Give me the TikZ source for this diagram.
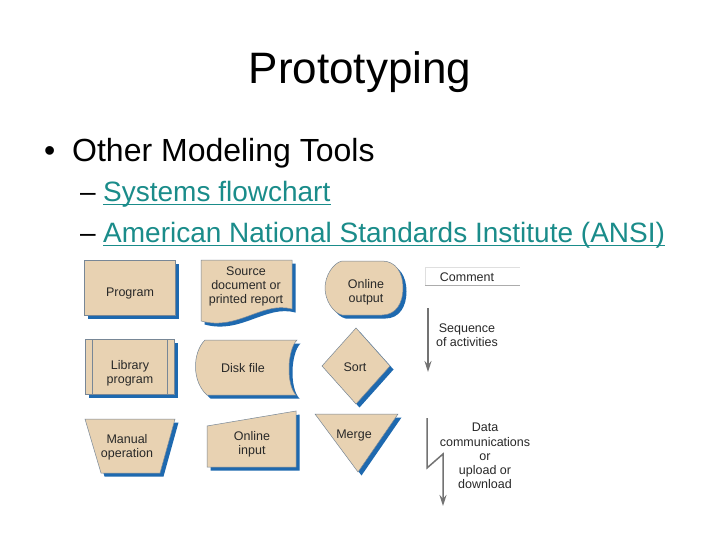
\documentclass[tikz,border=0pt]{standalone}
\usepackage{fontspec}
\setmainfont{Liberation Sans}
\usetikzlibrary{arrows.meta}
\definecolor{shapetan}{RGB}{232,210,178}
\definecolor{shadowblue}{RGB}{30,105,175}
\definecolor{edgegray}{RGB}{120,135,150}
\definecolor{linkteal}{RGB}{26,140,138}
\definecolor{arrowgray}{RGB}{115,115,115}
\definecolor{labeltext}{RGB}{40,40,40}
\newcommand\symshape[1]{%
  \fill[shadowblue,xshift=3.5pt,yshift=-3.5pt] #1;
  \filldraw[shapefill] #1;}
\begin{document}
\begin{tikzpicture}[x=1pt,y=-1pt,
  shapefill/.style={fill=shapetan,draw=edgegray,line width=0.5pt},
  lbl/.style={font=\fontsize{12.5}{14.2}\selectfont,text=labeltext,align=center,inner sep=0pt},
  flowarrow/.style={draw=arrowgray,line width=1.5pt,-{Stealth[length=11pt,width=7pt]}},
  linktext/.style={font=\fontsize{28}{32}\selectfont,text=linkteal,inner sep=0pt,anchor=base west}]
\useasboundingbox (0,0) rectangle (720,540);
\fill[white] (0,0) rectangle (720,540);
% title and bullets
\node[font=\fontsize{44}{52}\selectfont,inner sep=0pt,anchor=base] (title) at (360,84) {Prototyping};
\node[font=\fontsize{32}{38}\selectfont,inner sep=0pt,anchor=base west] (bul) at (44,161.5) {•};
\node[font=\fontsize{32}{38}\selectfont,inner sep=0pt,anchor=base west] (other) at (72,161.5) {Other Modeling Tools};
\node[font=\fontsize{28}{32}\selectfont,inner sep=0pt,anchor=base west] (d1) at (80,201.5) {–};
\node[linktext] (sf) at (103,201.5) {Systems flowchart};
\draw[linkteal,line width=1.5pt] ([yshift=-3pt]sf.base west) -- ([yshift=-3pt]sf.base east);
\node[font=\fontsize{28}{32}\selectfont,inner sep=0pt,anchor=base west] (d2) at (80,242.5) {–};
\node[linktext] (ansi) at (103,242.5) {American National Standards Institute (ANSI)};
\draw[linkteal,line width=1.5pt] ([yshift=-3pt]ansi.base west) -- ([yshift=-3pt]ansi.base east);
% row 1
\symshape{(84,260) rectangle (175,315)}
\node[lbl] (program) at (130,293) {Program};
\symshape{(201,260) -- (292,260) -- (292,309) .. controls (262,301) and (238,331) .. (201,321) -- cycle}
\node[lbl] (source) at (246,286.5) {Source\\document or\\printed report};
\symshape{(342,261) -- (382,261) .. controls (396,261) and (403,273) .. (403,288) .. controls (403,303) and (396,315) .. (382,315) -- (342,315) .. controls (333,313) and (325,300) .. (325,288) .. controls (325,276) and (333,263) .. (342,261) -- cycle}
\node[lbl] (onout) at (366,292) {Online\\output};
\draw[gray!25,line width=0.6pt] (425,285) -- (425,267) -- (520,267);
\draw[gray!65,line width=0.6pt] (425,285) -- (520,285);
\node[lbl] (comment) at (467,277.5) {Comment};
% row 2
\symshape{(85,339) rectangle (174,394)}
\draw[edgegray,line width=0.5pt] (92,339) -- (92,394) (167,339) -- (167,394);
\node[lbl] (lib) at (130,373.5) {Library\\program};
\symshape{(205,340) -- (297,340) .. controls (287,350) and (286,385) .. (296,395) -- (207,395) .. controls (192,382) and (192,353) .. (205,340) -- cycle}
\node[lbl] (disk) at (243,368) {Disk file};
\symshape{(356,328) -- (390,366) -- (356,404) -- (322,366) -- cycle}
\node[lbl] (sort) at (355,367.5) {Sort};
\coordinate (seqtop) at (428,308);
\coordinate (seqbot) at (428,372);
\draw[flowarrow] (seqtop) -- (seqbot);
\node[lbl] (seq) at (467,335.5) {Sequence\\of activities};
% row 3
\symshape{(85,419) -- (175,419) -- (160,473) -- (101,473) -- cycle}
\node[lbl] (manual) at (127,447) {Manual\\operation};
\symshape{(207,426) -- (296,411) -- (296,467) -- (207,467) -- cycle}
\node[lbl] (oninput) at (252,444.5) {Online\\input};
\symshape{(315,414) -- (398,414) -- (358,472) -- cycle}
\node[lbl] (merge) at (354,435) {Merge};
\coordinate (dctop) at (427,418);
\coordinate (dcbend1) at (427,468);
\coordinate (dcbend2) at (443,454);
\coordinate (dcbot) at (443,506);
\draw[flowarrow] (dctop) -- (dcbend1) -- (dcbend2) -- (dcbot);
\node[lbl] (datacomm) at (485,456) {Data\\communications\\or\\upload or\\download};
\end{tikzpicture}
\end{document}
